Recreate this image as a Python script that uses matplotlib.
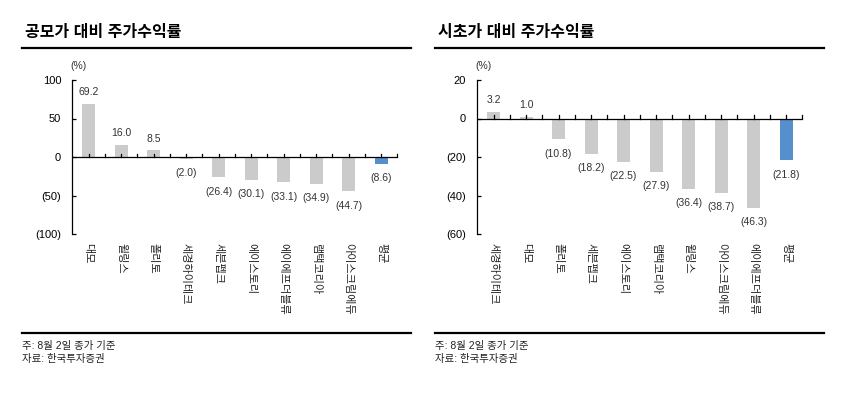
import matplotlib
matplotlib.use('Agg')
import matplotlib.pyplot as plt
import numpy as np

plt.rcParams['font.family'] = ['Liberation Sans', 'Noto Sans CJK KR', 'DejaVu Sans']

# left chart: return vs IPO price
ipo_names = ['대모', '윌링스', '폴리토', '세경하이테크', '세븐펩크', '에이스토리',
             '에이에프더블류', '램택코리아', '아이스크림에듀', '평균']
ipo_vals = [69.2, 16.0, 8.5, -2.0, -26.4, -30.1, -33.1, -34.9, -44.7, -8.6]
ipo_ticks = [100, 50, 0, -50, -100]

# right chart: return vs first-day open
open_names = ['세경하이테크', '대모', '폴리토', '세븐펩크', '에이스토리', '램택코리아',
              '윌링스', '아이스크림에듀', '에이에프더블류', '평균']
open_vals = [3.2, 1.0, -10.8, -18.2, -22.5, -27.9, -36.4, -38.7, -46.3, -21.8]
open_ticks = [20, 0, -20, -40, -60]

GRAY = '#cbcbcb'
BLUE = '#5590cc'
W, H = 841, 404


def fmt(v):
    return '%.1f' % v if v >= 0 else '(%.1f)' % -v


def draw(fig, left, names, vals, yticks):
    # left = pixel x of the y axis
    ax = fig.add_axes([left / W, 1 - 234 / H, 325 / W, 154 / H])
    x = np.arange(len(vals))
    colors = [GRAY] * (len(vals) - 1) + [BLUE]
    ax.bar(x, vals, width=0.4, color=colors, zorder=2)
    ax.set_xlim(-0.5, len(vals) - 0.5)
    ax.set_ylim(yticks[-1], yticks[0])
    span = yticks[0] - yticks[-1]
    for xi, v in zip(x, vals):
        if v >= 0:
            ax.text(xi, v + span * 0.045, fmt(v), ha='center', va='bottom',
                    fontsize=7.5, color='#333333')
        else:
            ax.text(xi, v - span * 0.06, fmt(v), ha='center', va='top',
                    fontsize=7.5, color='#333333')
    for s in ['top', 'right', 'bottom']:
        ax.spines[s].set_visible(False)
    ax.spines['left'].set_linewidth(0.9)
    ax.axhline(0, color='black', lw=0.9, zorder=3)
    ax.set_yticks(yticks)
    ax.set_yticklabels([fmt(t).replace('.0', '') for t in yticks], fontsize=8)
    ax.tick_params(axis='y', direction='in', length=3, width=0.9, pad=8)
    # x ticks sit on the zero line, so draw them by hand
    ax.set_xticks(x)
    ax.set_xticklabels([])
    ax.tick_params(axis='x', length=0)
    for t in np.arange(0, len(vals) - 0.5 + 0.01, 0.5):
        ax.plot([t, t], [0, span * 0.02], color='black', lw=0.9, zorder=3,
                clip_on=False)
    for xi, n in zip(x, names):
        ax.text(xi, -0.06, n, transform=ax.get_xaxis_transform(), rotation=270,
                ha='center', va='top', fontsize=8, color='#222222')
    ax.text(0.02, 1.06, '(%)', transform=ax.transAxes, ha='center', va='bottom',
            fontsize=7.5, color='#333333')
    return ax


fig = plt.figure(figsize=(W / 100, H / 100), dpi=100)

draw(fig, 72.3, ipo_names, ipo_vals, ipo_ticks)
draw(fig, 477.3, open_names, open_vals, open_ticks)

for x0, x1, title in [(22, 411, '공모가 대비 주가수익률'), (435, 824, '시초가 대비 주가수익률')]:
    fig.text((x0 + 3) / W, 1 - 33 / H, title, fontsize=11.5, fontweight='bold',
             va='center', ha='left')
    fig.add_artist(plt.Line2D([x0 / W, x1 / W], [1 - 48 / H, 1 - 48 / H],
                              color='black', lw=1.6))
    fig.add_artist(plt.Line2D([x0 / W, x1 / W], [1 - 333 / H, 1 - 333 / H],
                              color='black', lw=1.6))
    fig.text(x0 / W, 1 - 346 / H, '주: 8월 2일 종가 기준', fontsize=7.5, va='center',
             color='#222222')
    fig.text(x0 / W, 1 - 359 / H, '자료: 한국투자증권', fontsize=7.5, va='center',
             color='#222222')

fig.savefig('out.png', dpi=100)
